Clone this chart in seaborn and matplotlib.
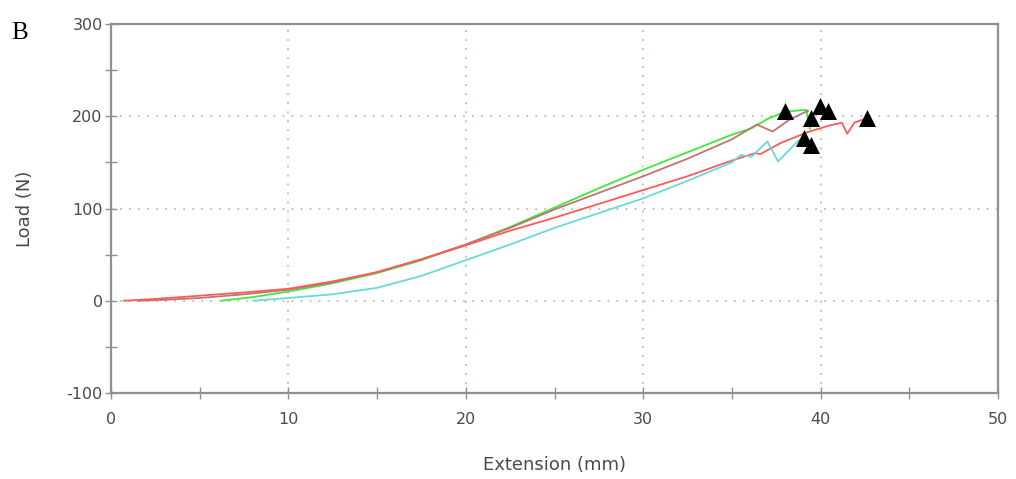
import numpy as np
import pandas as pd
import matplotlib
matplotlib.use("Agg")
import matplotlib.pyplot as plt
from matplotlib.ticker import MultipleLocator
import seaborn as sns

# Load-extension curves of four specimens (mm, N)
green_x = [6.2, 8, 10, 12.5, 15, 17.5, 20, 22.5, 25, 27.5, 30, 32.5, 35, 36.1, 37.0, 38.0, 39.2, 39.4]
green_y = [0, 4, 10, 19, 30, 44, 61, 80, 101, 122, 142, 161, 180, 187, 197, 205, 207, 186]

brown_x = [1.5, 3, 5, 7.5, 10, 12.5, 15, 17.5, 20, 22.5, 25, 27.5, 30, 32.5, 35, 36.4, 37.3, 38.3, 39.3]
brown_y = [0, 1, 3, 7, 12, 20, 31, 45, 61, 79, 99, 117, 135, 154, 175, 191, 183.5, 197, 206]

red_x = [0.7, 2.5, 5, 7.5, 10, 12.5, 15, 17.5, 20, 22.5, 25, 27.5, 30, 32.5, 35, 36.3, 36.6,
         37.75, 39.3, 40.5, 41.2, 41.5, 41.9, 42.6]
red_y = [0, 2, 5.5, 9, 13, 21, 31, 45, 60, 76, 90, 105, 120, 135, 152, 160, 159,
         171, 183, 190, 193, 181, 193, 198]

cyan_x = [8.0, 10, 12.5, 15, 17.5, 20, 22.5, 25, 27.5, 30, 32.5, 35, 35.5, 36.1, 37.0, 37.6, 38.7, 39.0]
cyan_y = [0, 3, 7, 14, 27, 44, 61, 79, 95, 111, 130, 150, 158, 156, 172.7, 151, 172.7, 176]

# Break points
break_x = [38.0, 39.97, 40.39, 39.44, 39.04, 39.44, 42.64]
break_y = [206, 210.6, 206, 198, 176, 169, 198]

series = {
    "green": (green_x, green_y),
    "brown": (brown_x, brown_y),
    "red": (red_x, red_y),
    "cyan": (cyan_x, cyan_y),
}
palette = {"green": "#3ee83e", "brown": "#c07474", "red": "#ff5a5a", "cyan": "#6ad8dc"}

frames = []
for name, (xs, ys) in series.items():
    frames.append(pd.DataFrame({"ext": xs, "load": ys, "specimen": name}))
df = pd.concat(frames, ignore_index=True)
breaks = pd.DataFrame({"ext": break_x, "load": break_y})

sns.set_style("white")
plt.rcParams["font.family"] = ["DejaVu Sans"]
plt.rcParams["axes.unicode_minus"] = False

fig = plt.figure(figsize=(10.16, 4.79), dpi=100)
ax = fig.add_axes([0.1093, 0.1795, 0.8730, 0.7704])

grid_col = "#c4bca4"
for gx in [10, 20, 30, 40]:
    ax.axvline(gx, color=grid_col, linestyle=(0, (1, 4)), linewidth=1.3, zorder=0)
for gy in [0, 100, 200]:
    ax.axhline(gy, color=grid_col, linestyle=(0, (1, 4)), linewidth=1.3, zorder=0)

sns.lineplot(data=df, x="ext", y="load", hue="specimen", palette=palette,
             sort=False, estimator=None, units="specimen", linewidth=1.3,
             legend=False, ax=ax)
sns.scatterplot(data=breaks, x="ext", y="load", marker="^", s=150, color="black",
                edgecolor="black", linewidth=0, zorder=5, ax=ax)

ax.set_xlim(0, 50)
ax.set_ylim(-100, 300)
ax.xaxis.set_major_locator(MultipleLocator(10))
ax.xaxis.set_minor_locator(MultipleLocator(5))
ax.yaxis.set_major_locator(MultipleLocator(100))
ax.yaxis.set_minor_locator(MultipleLocator(50))

spine_col = "#909090"
for sp in ax.spines.values():
    sp.set_color(spine_col)
    sp.set_linewidth(1.6)
ax.tick_params(which="both", direction="inout", length=8, width=1.0,
               color=spine_col, labelcolor="#4a4a4a", labelsize=11.5,
               bottom=True, left=True)
ax.tick_params(axis="x", pad=10)
ax.tick_params(axis="y", pad=2)

ax.set_xlabel("Extension (mm)", fontsize=13, color="#4a4a4a", va="center")
ax.set_ylabel("Load (N)", fontsize=13, color="#4a4a4a", va="center")
ax.xaxis.set_label_coords(0.5, -0.195)
ax.yaxis.set_label_coords(-0.097, 0.5)

fig.text(0.011, 0.955, "B", fontsize=18, family="Liberation Serif", color="black",
         ha="left", va="top")

fig.savefig("out.png", dpi=100, facecolor="white")
